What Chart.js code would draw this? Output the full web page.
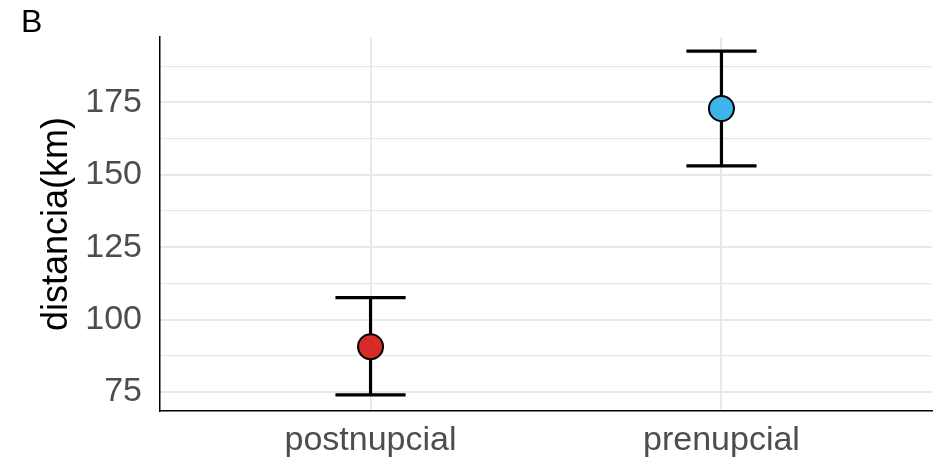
<!DOCTYPE html>
<html>
<head>
<meta charset="utf-8">
<script src="https://cdn.jsdelivr.net/npm/chart.js@4"></script>
<style>
  body { margin: 0; background: #fff; }
  #wrap { position: relative; width: 939px; height: 465px; }
  #panel { position: absolute; left: 21px; top: 3px; font: 32px "Liberation Sans", Arial, sans-serif; color: #000; }
</style>
</head>
<body>
<div id="wrap">
  <canvas id="myChart" width="939" height="465"></canvas>
  <div id="panel">B</div>
</div>
<script>
const categories = ["postnupcial", "prenupcial"];
const means = [90.6, 172.9];
const lower = [74.0, 153.1];
const upper = [107.6, 192.7];
const pointColors = ["#D62B27", "#3DB5EB"];
const yTicks = [75, 87.5, 100, 112.5, 125, 137.5, 150, 162.5, 175, 187.5];

document.addEventListener("DOMContentLoaded", function () {
  createErrorChart();
});

function createErrorChart() {
  const capHalf = 0.1;
  const barData = [];
  categories.forEach((c, i) => {
    const x = i + 1;
    barData.push({ x: x - capHalf, y: upper[i] }, { x: x + capHalf, y: upper[i] }, { x: x, y: null });
    barData.push({ x: x, y: upper[i] }, { x: x, y: lower[i] }, { x: x, y: null });
    barData.push({ x: x - capHalf, y: lower[i] }, { x: x + capHalf, y: lower[i] }, { x: x, y: null });
  });

  const ctx = document.getElementById("myChart").getContext("2d");
  new Chart(ctx, {
    type: "scatter",
    data: {
      datasets: [
        {
          label: "media",
          data: means.map((m, i) => ({ x: i + 1, y: m })),
          pointRadius: 12.5,
          pointBackgroundColor: pointColors,
          pointBorderColor: "#000",
          pointBorderWidth: 2,
          showLine: false,
        },
        {
          label: "error",
          data: barData,
          showLine: true,
          spanGaps: false,
          borderColor: "#000",
          borderWidth: 3.2,
          pointRadius: 0,
        },
      ],
    },
    options: {
      responsive: false,
      animation: false,
      layout: { autoPadding: false, padding: { top: 37, right: 7, left: 0, bottom: 0 } },
      plugins: { legend: { display: false }, tooltip: { enabled: false } },
      scales: {
        x: {
          type: "linear",
          min: 0.4,
          max: 2.6,
          afterBuildTicks: (scale) => {
            scale.ticks = categories.map((c, i) => ({ value: i + 1 }));
          },
          afterFit: (scale) => {
            scale.height = 54;
            scale.paddingLeft = 0;
            scale.paddingRight = 0;
          },
          ticks: {
            padding: 9,
            autoSkip: false,
            maxRotation: 0,
            color: "#4d4d4d",
            font: { family: "Liberation Sans", size: 34 },
            callback: (v) => categories[v - 1],
          },
          grid: { color: "#e8e8e8", lineWidth: 2, drawTicks: false },
          border: { display: true, color: "#000", width: 1.5 },
        },
        y: {
          min: 68.4,
          max: 197.6,
          afterBuildTicks: (scale) => {
            scale.ticks = yTicks.map((v) => ({ value: v }));
          },
          afterFit: (scale) => {
            scale.width = 160;
            scale.paddingTop = 0;
            scale.paddingBottom = 0;
          },
          ticks: {
            padding: 18,
            autoSkip: false,
            color: "#4d4d4d",
            font: { family: "Liberation Sans", size: 34 },
            callback: (v) => (v % 25 === 0 ? v : ""),
          },
          grid: {
            color: "#e8e8e8",
            lineWidth: (c) => (c.tick && c.tick.value % 25 === 0 ? 2 : 1.3),
            drawTicks: false,
          },
          border: { display: true, color: "#000", width: 1.5 },
          title: {
            display: true,
            text: "distancia(km)",
            color: "#000",
            font: { family: "Liberation Sans", size: 36 },
            padding: { top: 35, bottom: 0 },
          },
        },
      },
    },
  });
}
</script>
</body>
</html>
